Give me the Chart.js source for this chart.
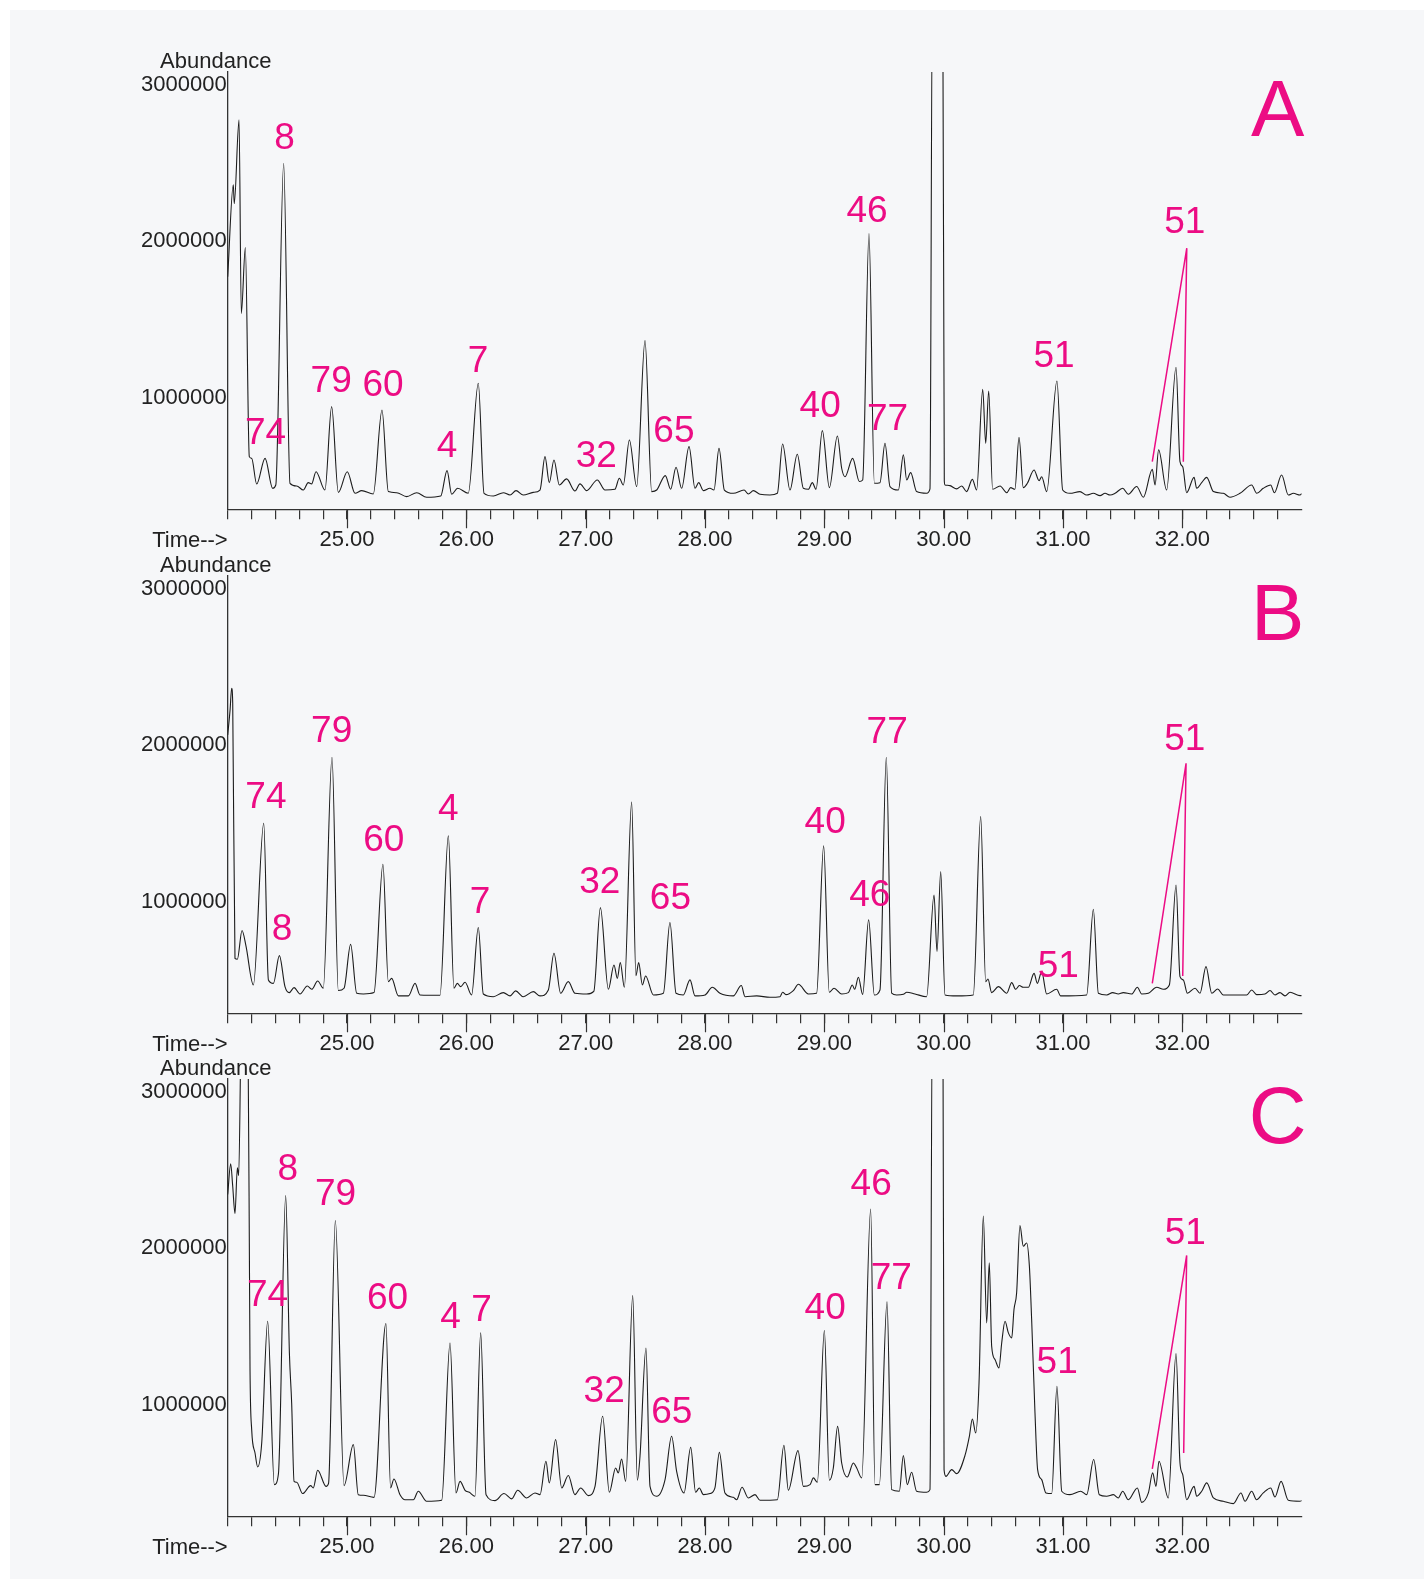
<!DOCTYPE html>
<html>
<head>
<meta charset="utf-8">
<script src="https://cdn.jsdelivr.net/npm/chart.js@4.4.1/dist/chart.umd.min.js"></script>
<style>
  html, body { margin: 0; padding: 0; background: #ffffff; }
  #page { position: relative; width: 1424px; height: 1579px; overflow: hidden; background: #ffffff; }
  #sheet { position: absolute; left: 10px; top: 10px; right: 0; bottom: 0; background: #f6f7f9; }
  canvas { position: absolute; left: 0; }
</style>
</head>
<body>
<div id="page">
  <div id="sheet"></div>
  <canvas id="chartA" width="1424" height="560" style="top:0px"></canvas>
  <canvas id="chartB" width="1424" height="560" style="top:504px"></canvas>
  <canvas id="chartC" width="1424" height="560" style="top:1007px"></canvas>
</div>
<script>
// ---- axis ticks --------------------------------------------------------
const timeLabels = [25, 26, 27, 28, 29, 30, 31, 32];
const abundanceTicks = [1000000, 2000000, 3000000];

// ---- trace A: retention time (min) / abundance ------------------------
const timeA = [24.000,24.047,24.055,24.095,24.114,24.148,24.181,24.201,24.243,24.313,24.377,24.403,24.469,24.522,24.578,24.634,24.675,24.703,24.740,24.815,24.871,24.927,25.002,25.067,25.123,25.220,25.293,25.346,25.416,25.500,25.584,25.667,25.785,25.838,25.877,25.927,26.016,26.100,26.148,26.227,26.310,26.366,26.416,26.477,26.560,26.617,26.659,26.695,26.734,26.779,26.840,26.910,26.952,27.008,27.097,27.162,27.245,27.282,27.315,27.366,27.427,27.497,27.553,27.595,27.667,27.712,27.757,27.804,27.866,27.916,27.947,27.986,28.041,28.075,28.117,28.162,28.237,28.327,28.363,28.405,28.461,28.544,28.606,28.650,28.712,28.773,28.824,28.866,28.899,28.930,28.983,29.042,29.109,29.145,29.173,29.237,29.293,29.321,29.374,29.419,29.466,29.508,29.550,29.620,29.662,29.690,29.723,29.773,29.857,29.885,29.905,29.992,30.005,30.011,30.053,30.109,30.151,30.192,30.240,30.276,30.327,30.352,30.377,30.410,30.472,30.528,30.561,30.597,30.631,30.667,30.701,30.757,30.799,30.821,30.863,30.949,30.997,31.058,31.142,31.198,31.254,31.310,31.352,31.394,31.436,31.500,31.547,31.617,31.673,31.748,31.771,31.801,31.868,31.947,31.980,32.003,32.036,32.098,32.120,32.162,32.204,32.260,32.343,32.399,32.483,32.581,32.623,32.678,32.740,32.771,32.832,32.888,32.930,32.986,33.000];
const abundA = [1774000,2360000,2240000,2775000,1540000,1960000,626000,615000,451000,615000,424000,445000,2498000,456000,439000,413000,460000,452000,530000,413000,945000,398000,530000,392000,409000,388000,924000,403000,396000,371000,396000,367000,375000,537000,386000,424000,392000,1094000,392000,375000,396000,381000,409000,381000,398000,413000,626000,460000,605000,445000,484000,407000,452000,409000,477000,413000,418000,488000,445000,732000,435000,1366000,403000,413000,505000,418000,558000,424000,690000,424000,460000,409000,424000,413000,679000,413000,392000,413000,388000,409000,386000,381000,392000,707000,413000,641000,424000,418000,460000,418000,792000,428000,758000,552000,498000,615000,467000,477000,2050000,456000,460000,711000,435000,413000,637000,477000,524000,403000,392000,420000,3600000,3600000,470000,445000,441000,420000,439000,403000,481000,413000,1056000,711000,1045000,418000,439000,396000,428000,418000,750000,428000,456000,541000,473000,498000,403000,1109000,413000,392000,403000,381000,392000,377000,392000,381000,392000,424000,386000,435000,367000,545000,445000,669000,413000,1196000,594000,562000,396000,494000,424000,460000,494000,403000,392000,367000,392000,445000,392000,424000,445000,396000,509000,381000,392000,381000,390000];

// ---- trace B -----------------------------------------------------------
const timeB = [24.000,24.020,24.033,24.042,24.061,24.081,24.120,24.153,24.215,24.302,24.341,24.383,24.433,24.480,24.516,24.556,24.606,24.667,24.704,24.754,24.801,24.874,24.927,24.975,25.030,25.081,25.137,25.226,25.301,25.346,25.374,25.430,25.514,25.570,25.611,25.779,25.849,25.896,25.924,25.952,25.989,26.044,26.100,26.142,26.226,26.310,26.366,26.413,26.477,26.561,26.617,26.687,26.734,26.790,26.854,26.910,27.008,27.068,27.123,27.190,27.237,27.265,27.290,27.324,27.385,27.421,27.444,27.475,27.502,27.567,27.651,27.706,27.757,27.818,27.874,27.916,28.000,28.061,28.125,28.237,28.304,28.335,28.433,28.544,28.628,28.650,28.678,28.740,28.782,28.866,28.935,28.994,29.041,29.081,29.145,29.201,29.234,29.254,29.285,29.321,29.371,29.419,29.466,29.519,29.564,29.606,29.662,29.690,29.759,29.857,29.919,29.944,29.975,30.011,30.109,30.248,30.310,30.352,30.371,30.402,30.458,30.528,30.570,30.603,30.634,30.667,30.709,30.757,30.785,30.821,30.863,30.947,30.980,31.198,31.254,31.296,31.366,31.416,31.463,31.505,31.575,31.623,31.659,31.715,31.785,31.841,31.891,31.947,31.980,32.008,32.042,32.106,32.148,32.198,32.246,32.296,32.343,32.539,32.581,32.622,32.692,32.734,32.776,32.818,32.860,32.902,32.986,33.000];
const abundB = [2066000,2226000,2364000,2268000,641000,635000,818000,720000,471000,1503000,503000,481000,658000,460000,422000,454000,413000,464000,443000,496000,450000,1924000,435000,450000,730000,418000,413000,422000,1241000,492000,513000,401000,401000,481000,407000,405000,1422000,450000,481000,460000,488000,407000,837000,413000,396000,422000,401000,433000,396000,428000,401000,439000,673000,418000,492000,418000,413000,430000,964000,443000,598000,513000,613000,456000,1637000,530000,613000,471000,528000,407000,418000,869000,418000,407000,503000,401000,407000,456000,418000,401000,467000,396000,401000,392000,396000,424000,409000,435000,475000,413000,418000,1358000,424000,450000,413000,422000,471000,443000,520000,411000,886000,407000,439000,1924000,418000,407000,411000,424000,413000,396000,1045000,684000,1194000,407000,401000,407000,1545000,492000,509000,422000,460000,418000,486000,443000,467000,456000,456000,545000,481000,556000,413000,443000,401000,407000,954000,418000,407000,422000,413000,422000,413000,456000,413000,418000,456000,443000,471000,1109000,524000,503000,418000,450000,418000,588000,418000,445000,407000,407000,439000,409000,413000,435000,407000,422000,401000,424000,403000,403000];

// ---- trace C -----------------------------------------------------------
const timeC = [24.000,24.025,24.042,24.061,24.081,24.092,24.118,24.168,24.187,24.201,24.229,24.251,24.285,24.335,24.391,24.425,24.486,24.517,24.536,24.556,24.578,24.628,24.695,24.717,24.754,24.824,24.845,24.902,24.975,25.053,25.094,25.137,25.226,25.326,25.365,25.393,25.444,25.486,25.556,25.597,25.667,25.793,25.863,25.913,25.947,25.989,26.025,26.072,26.120,26.165,26.240,26.315,26.380,26.430,26.505,26.575,26.617,26.667,26.695,26.748,26.799,26.854,26.910,26.958,27.022,27.078,27.142,27.198,27.251,27.273,27.301,27.335,27.394,27.433,27.455,27.505,27.539,27.595,27.665,27.720,27.762,27.824,27.880,27.921,27.952,27.986,28.042,28.083,28.120,28.167,28.237,28.265,28.310,28.363,28.419,28.461,28.606,28.661,28.698,28.779,28.824,28.880,28.908,28.941,29.000,29.042,29.075,29.111,29.145,29.192,29.243,29.271,29.313,29.388,29.424,29.461,29.525,29.564,29.628,29.662,29.695,29.731,29.773,29.857,29.885,29.905,29.993,30.003,30.019,30.067,30.109,30.178,30.215,30.240,30.268,30.296,30.332,30.360,30.382,30.402,30.430,30.463,30.486,30.514,30.542,30.570,30.589,30.611,30.639,30.667,30.695,30.718,30.737,30.765,30.787,30.821,30.857,30.905,30.949,30.989,31.058,31.148,31.198,31.257,31.304,31.366,31.422,31.463,31.500,31.547,31.623,31.659,31.715,31.751,31.779,31.804,31.882,31.947,31.980,32.003,32.036,32.098,32.120,32.162,32.204,32.260,32.343,32.427,32.491,32.525,32.581,32.622,32.678,32.740,32.776,32.827,32.888,32.986,33.000];
const abundC = [2343000,2539000,2396000,2222000,2513000,2464000,3600000,3600000,1226000,843000,694000,605000,758000,1534000,492000,560000,2336000,1332000,1013000,513000,507000,435000,486000,471000,584000,481000,500000,2177000,486000,747000,428000,424000,411000,1520000,471000,528000,428000,396000,396000,450000,386000,392000,1396000,439000,513000,456000,443000,418000,1460000,428000,390000,435000,401000,456000,407000,439000,428000,641000,503000,779000,471000,550000,428000,471000,422000,481000,928000,443000,598000,567000,656000,513000,1698000,520000,673000,1364000,481000,418000,524000,801000,577000,439000,730000,443000,471000,428000,435000,471000,698000,439000,411000,396000,475000,407000,428000,392000,396000,743000,456000,709000,481000,492000,535000,507000,1475000,520000,598000,864000,630000,541000,630000,598000,535000,2251000,492000,492000,1658000,460000,450000,677000,492000,571000,450000,443000,460000,3600000,3600000,588000,545000,588000,562000,677000,800000,911000,822000,1141000,2205000,1524000,1907000,1375000,1290000,1237000,1396000,1534000,1460000,1428000,1609000,1715000,2145000,2013000,2034000,1886000,1545000,949000,588000,524000,439000,435000,1120000,450000,428000,450000,428000,652000,428000,418000,428000,407000,450000,396000,471000,379000,439000,567000,481000,641000,407000,1328000,630000,556000,396000,481000,418000,450000,503000,407000,386000,371000,439000,386000,450000,396000,439000,471000,413000,513000,392000,386000,390000];

// ---- peak numbers: [text, time, abundance of the label centre] ----------
const peaksA = [['74',24.317,769000],['8',24.476,2655000],['79',24.867,1104000],['60',25.301,1080000],['4',25.838,688000],['7',26.098,1232000],['32',27.089,628000],['65',27.739,783000],['40',28.965,945000],['46',29.357,2190000],['77',29.529,860000],['51',30.924,1264000],['51',32.020,2115000]];
const peaksB = [['74',24.320,1662000],['8',24.456,822000],['79',24.871,2088000],['60',25.308,1388000],['4',25.849,1588000],['7',26.114,992000],['32',27.118,1125000],['65',27.710,1022000],['40',29.007,1505000],['46',29.380,1037000],['77',29.526,2079000],['51',30.960,587000],['51',32.020,2034000]];
const peaksC = [['74',24.334,1694000],['8',24.503,2500000],['79',24.903,2343000],['60',25.339,1675000],['4',25.868,1554000],['7',26.128,1603000],['32',27.155,1086000],['65',27.722,949000],['40',29.007,1617000],['46',29.392,2405000],['77',29.561,1805000],['51',30.951,1269000],['51',32.025,2090000]];

// ---- leader lines from the second "51" to its two peaks ----------------
const leaderA = [[32.037,1956000],[31.748,594000],[32.008,594000]];
const leaderB = [[32.031,1885000],[31.748,481000],[32.003,528000]];
const leaderC = [[32.036,1954000],[31.748,592000],[32.011,694000]];

const FONT = "'Liberation Sans', Arial, Helvetica, sans-serif";
const INK = '#222222';
const PINK = '#ec0c84';

// every 0.2 min from 24.0 to 32.8
const minorTicks = [];
for (let i = 0; i <= 44; i++) minorTicks.push(Math.round((24 + i * 0.2) * 10) / 10);

const decorations = {
  id: 'decorations',
  afterDraw(chart, args, opts) {
    const { ctx, chartArea: a, scales: { x, y } } = chart;
    ctx.save();
    // longer tick marks at whole minutes
    ctx.strokeStyle = '#333';
    ctx.lineWidth = 1.2;
    ctx.beginPath();
    timeLabels.forEach(t => {
      const px = Math.round(x.getPixelForValue(t)) + 0.5;
      ctx.moveTo(px, a.bottom);
      ctx.lineTo(px, a.bottom + 19);
    });
    ctx.stroke();

    ctx.fillStyle = INK;
    ctx.font = `22px ${FONT}`;
    ctx.textBaseline = 'alphabetic';
    ctx.textAlign = 'right';
    ctx.fillText('Time-->', a.left, a.bottom + 37.6);
    ctx.textAlign = 'center';
    ctx.fillText('Abundance', a.left - 12, a.top - 4.3);

    // peak numbers
    ctx.fillStyle = PINK;
    ctx.font = `37px ${FONT}`;
    ctx.textAlign = 'center';
    ctx.textBaseline = 'middle';
    opts.peaks.forEach(([txt, t, v]) => {
      ctx.fillText(txt, x.getPixelForValue(t), y.getPixelForValue(v));
    });

    // leader lines
    const [from, ...to] = opts.leader;
    ctx.strokeStyle = PINK;
    ctx.lineWidth = 1.5;
    ctx.beginPath();
    to.forEach(p => {
      ctx.moveTo(x.getPixelForValue(from[0]), y.getPixelForValue(from[1]));
      ctx.lineTo(x.getPixelForValue(p[0]), y.getPixelForValue(p[1]));
    });
    ctx.stroke();

    // sample letter
    ctx.font = `80px ${FONT}`;
    ctx.textBaseline = 'alphabetic';
    ctx.fillText(opts.letter, a.right - 24, a.top + 64);
    ctx.restore();
  }
};

function drawPanel(id, times, abund, peaks, leader, letter) {
  const points = times.map((t, i) => ({ x: t, y: abund[i] }));
  return new Chart(document.getElementById(id), {
    type: 'line',
    data: {
      datasets: [{
        data: points,
        borderColor: '#1c1c1c',
        borderWidth: 1.1,
        pointRadius: 0,
        fill: false,
        cubicInterpolationMode: 'monotone'
      }]
    },
    options: {
      responsive: false,
      animation: false,
      devicePixelRatio: 1,
      layout: { padding: { top: 72, left: 0, right: 122.3, bottom: 0 } },
      plugins: {
        legend: { display: false },
        tooltip: { enabled: false },
        decorations: { peaks, leader, letter }
      },
      scales: {
        x: {
          type: 'linear',
          min: 24,
          max: 33,
          afterFit(scale) { scale.height = 50.7; },
          afterBuildTicks(scale) { scale.ticks = minorTicks.map(v => ({ value: v })); },
          ticks: {
            autoSkip: false,
            maxRotation: 0,
            padding: 7,
            color: INK,
            font: { family: FONT, size: 22 },
            callback: v => (timeLabels.includes(v) ? v.toFixed(2) : '')
          },
          grid: { display: true, drawOnChartArea: false, drawTicks: true, tickLength: 10, color: '#333', lineWidth: 1.2 },
          border: { display: true, color: '#333', width: 1.3 }
        },
        y: {
          type: 'linear',
          min: 290000,
          max: 3080000,
          afterFit(scale) { scale.width = 227.7; },
          afterBuildTicks(scale) { scale.ticks = abundanceTicks.map(v => ({ value: v })); },
          ticks: {
            padding: 1,
            color: INK,
            font: { family: FONT, size: 22 },
            callback: v => String(v)
          },
          grid: { display: true, drawOnChartArea: false, drawTicks: false },
          border: { display: true, color: '#333', width: 1.3 }
        }
      }
    },
    plugins: [decorations]
  });
}

drawPanel('chartA', timeA, abundA, peaksA, leaderA, 'A');
drawPanel('chartB', timeB, abundB, peaksB, leaderB, 'B');
drawPanel('chartC', timeC, abundC, peaksC, leaderC, 'C');
</script>
</body>
</html>
